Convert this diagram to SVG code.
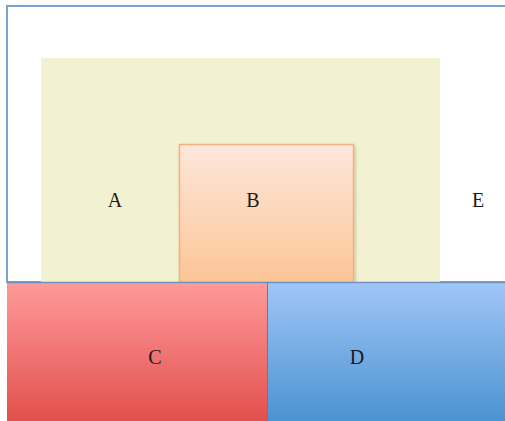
<svg xmlns="http://www.w3.org/2000/svg" width="505" height="421" viewBox="0 0 505 421">
<defs>
<linearGradient id="gB" x1="0" y1="0" x2="0" y2="1"><stop offset="0" stop-color="#fde7dc"/><stop offset="1" stop-color="#fcc595"/></linearGradient>
<linearGradient id="gC" x1="0" y1="0" x2="0" y2="1"><stop offset="0" stop-color="#fe9a9a"/><stop offset="1" stop-color="#e2504d"/></linearGradient>
<linearGradient id="gD" x1="0" y1="0" x2="0" y2="1"><stop offset="0" stop-color="#a0c6f6"/><stop offset="1" stop-color="#4b93d3"/></linearGradient>
<filter id="sh" x="-10%" y="-10%" width="130%" height="130%"><feDropShadow dx="1" dy="2" stdDeviation="1.5" flood-color="#000" flood-opacity="0.25"/></filter>
</defs>
<style>
text{font-family:"Liberation Serif","Times New Roman",serif;font-size:20px;fill:#1a1a1a;text-anchor:middle}
</style>
<rect width="505" height="421" fill="#fff"/>
<g id="E">
<rect x="7" y="6" width="500" height="276" fill="#fff" stroke="#7ba3cf" stroke-width="2"/>
<text x="478" y="207">E</text>
</g>
<g id="A">
<rect x="41" y="58" width="399" height="224" fill="#f2f2d2"/>
<text x="115" y="207">A</text>
</g>
<g id="B">
<rect x="179.5" y="144.5" width="174" height="138" fill="url(#gB)" stroke="#f3b07e" stroke-width="1.5" filter="url(#sh)"/>
<text x="253" y="207">B</text>
</g>
<g id="C">
<rect x="7" y="283" width="260" height="138" fill="url(#gC)"/>
<text x="155" y="364">C</text>
</g>
<g id="D">
<rect x="267" y="283" width="238" height="138" fill="url(#gD)"/>
<line x1="267.5" y1="283" x2="267.5" y2="421" stroke="#8a6a8a" stroke-width="1"/>
<text x="357" y="364">D</text>
</g>
<g id="connectors">
<line x1="7" y1="282.5" x2="505" y2="282.5" stroke="#6b93c0" stroke-width="1.5"/>
</g>
</svg>
